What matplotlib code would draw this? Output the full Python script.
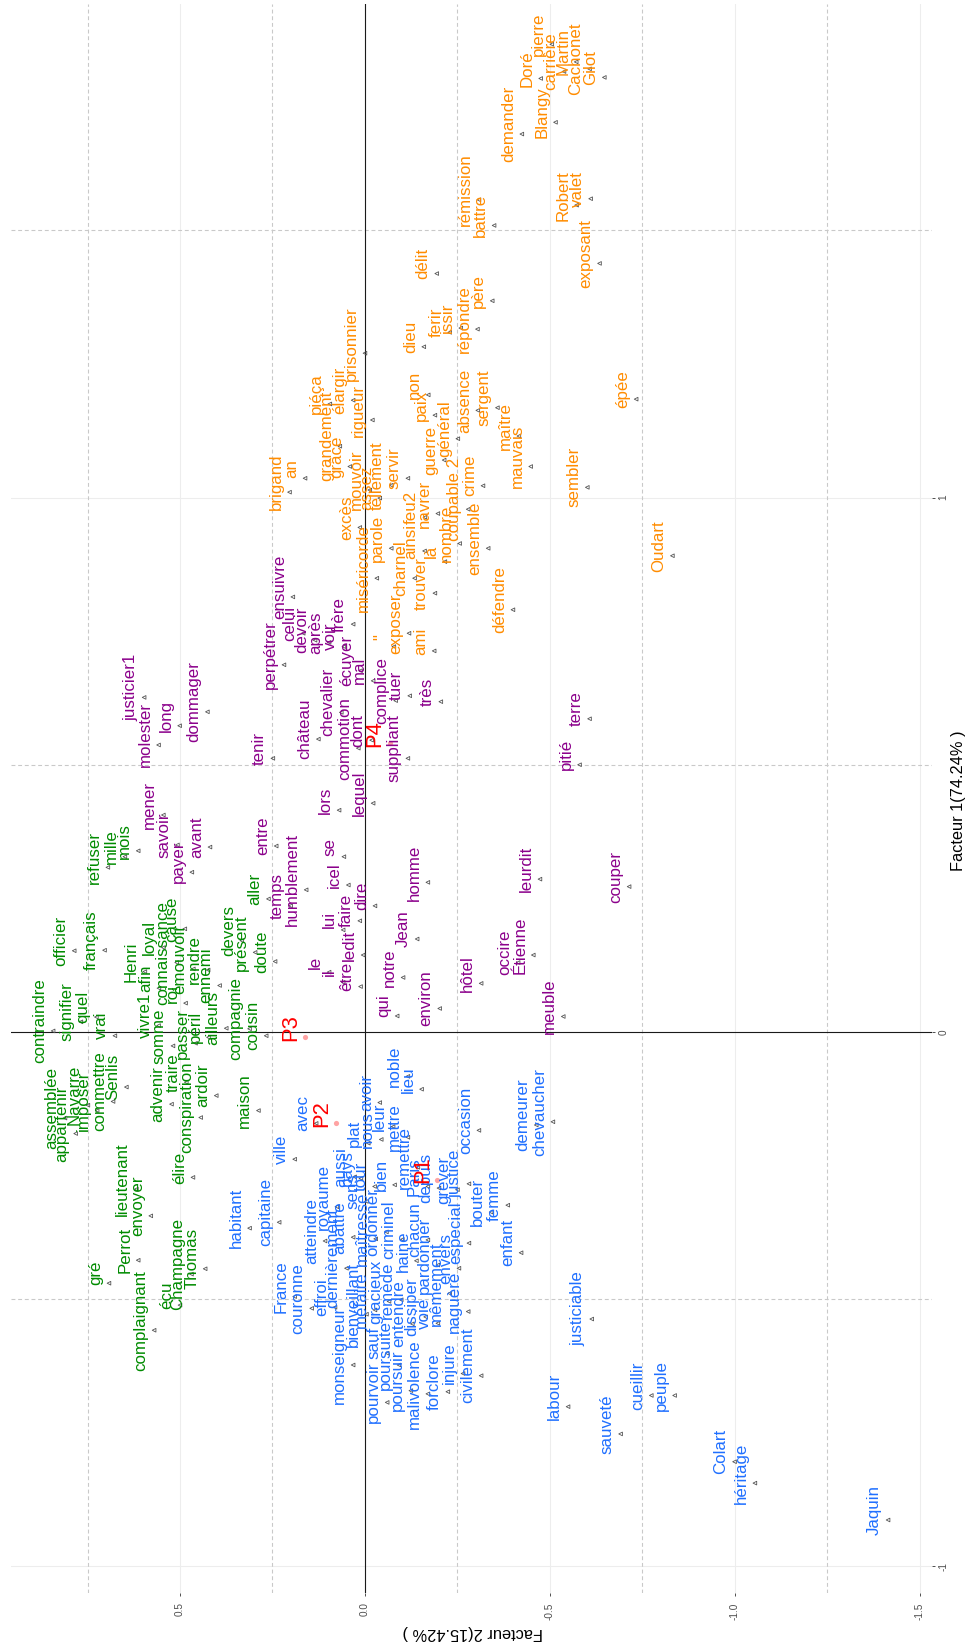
import matplotlib
matplotlib.use("Agg")
import matplotlib.pyplot as plt
from matplotlib.transforms import offset_copy

plt.rcParams["font.family"] = ["Liberation Sans", "DejaVu Sans"]

# coordinates of the words on factor 1 / factor 2, one block per class
orange_words = ["pierre", "Doré", "carrière", "Martin", "Cachonet", "Gilot", "Blangy",
                "demander", "rémission", "battre", "Robert", "valet", "exposant", "délit",
                "dieu", "ferir", "issir", "répondre", "père", "prisonnier", "élargir", "épée",
                "non", "paix", "guerre", "général", "absence", "sergent", "maître", "mauvais",
                "sembler", "crime", "coupable 2", "nombre", "navrer", "là", "feu2", "ainsi",
                "charnel", "trouver", "exposer", "ami", '"', "ensemble", "défendre", "Oudart",
                "servir", "tellement", "parole", "assez", "excès", "miséricorde", "mouvoir",
                "rigueur", "grâce", "grandement", "piéça", "brigand", "an"]
orange_f1 = [1.848, 1.784, 1.797, 1.815, 1.802, 1.786, 1.702,
             1.680, 1.557, 1.509, 1.547, 1.559, 1.438, 1.419,
             1.282, 1.309, 1.317, 1.315, 1.368, 1.270, 1.182, 1.184,
             1.192, 1.154, 1.070, 1.110, 1.163, 1.168, 1.115, 1.058,
             1.019, 1.022, 0.978, 0.914, 0.970, 0.880, 0.963, 0.900,
             0.849, 0.821, 0.746, 0.713, 0.721, 0.905, 0.790, 0.891,
             1.036, 1.023, 0.905, 0.999, 0.944, 0.849, 1.014,
             1.145, 1.058, 1.096, 1.175, 1.010, 1.036]
orange_f2 = [-0.505, -0.475, -0.538, -0.571, -0.607, -0.647, -0.515,
             -0.424, -0.308, -0.349, -0.572, -0.610, -0.634, -0.194,
             -0.159, -0.229, -0.259, -0.304, -0.344, 0.000, 0.032, -0.733,
             -0.171, -0.189, -0.214, -0.251, -0.305, -0.358, -0.416, -0.448,
             -0.601, -0.319, -0.279, -0.256, -0.197, -0.216, -0.162, -0.161,
             -0.134, -0.189, -0.119, -0.187, -0.078, -0.333, -0.400, -0.831,
             -0.116, -0.071, -0.071, -0.040, 0.014, -0.032, -0.013,
             -0.020, 0.041, 0.068, 0.095, 0.204, 0.162]

purple_words = ["justicier1", "molester", "long", "dommager", "perpétrer", "ensuivre",
                "celui", "devoir", "après", "voir", "tenir", "château", "chevalier", "lors",
                "mener", "frère", "écuyer", "mal", "commotion", "dont", "lequel", "complice",
                "suppliant", "tuer", "très", "pitié", "terre", "savoir", "payer", "avant",
                "entre", "temps", "humblement", "le", "se", "icel", "lui", "faire", "dire",
                "ledit", "il", "être", "qui", "notre", "Jean", "homme", "environ", "hôtel",
                "occire", "Étienne", "leurdit", "meuble", "couper"]
purple_f1 = [0.626, 0.537, 0.573, 0.599, 0.687, 0.814,
             0.746, 0.733, 0.729, 0.721, 0.512, 0.548, 0.598, 0.415,
             0.406, 0.763, 0.676, 0.657, 0.531, 0.546, 0.428, 0.620,
             0.512, 0.629, 0.618, 0.500, 0.586, 0.350, 0.299, 0.346,
             0.348, 0.236, 0.266, 0.112, 0.328, 0.275, 0.191, 0.208, 0.236,
             0.144, 0.093, 0.085, 0.030, 0.102, 0.174, 0.280, 0.044, 0.091,
             0.130, 0.144, 0.286, 0.029, 0.272]
purple_f2 = [0.597, 0.558, 0.501, 0.426, 0.219, 0.195,
             0.167, 0.135, 0.097, 0.057, 0.249, 0.126, 0.064, 0.070,
             0.545, 0.032, 0.012, -0.022, 0.018, -0.018, -0.022, -0.083,
             -0.116, -0.121, -0.205, -0.580, -0.607, 0.507, 0.468, 0.419,
             0.240, 0.201, 0.159, 0.097, 0.057, 0.045, 0.059, 0.014, -0.027,
             0.005, 0.059, 0.012, -0.087, -0.103, -0.141, -0.170, -0.202, -0.314,
             -0.414, -0.455, -0.473, -0.536, -0.714]

green_words = ["refuser", "mille", "mois", "officier", "français", "contraindre",
               "signifier", "quel", "vrai", "Henri", "loyal", "vivre1", "afin",
               "connaissance", "cause", "émouvoir", "roi", "rendre", "ennemi", "péril",
               "ailleurs", "devers", "présent", "doute", "aller", "compagnie", "cousin",
               "somme", "advenir", "traire", "passer", "conspiration", "ardoir", "maison",
               "assemblée", "appartenir", "Navarre", "imposer", "commettre", "Senlis",
               "lieutenant", "envoyer", "élire", "gré", "Perrot", "complaignant", "écu",
               "Champagne", "Thomas"]
green_f1 = [0.308, 0.328, 0.339, 0.152, 0.153, 0.002,
            0.019, 0.028, -0.007, 0.113, 0.158, 0.012, 0.082,
            0.130, 0.193, 0.118, 0.054, 0.116, 0.087, -0.010,
            0.007, 0.171, 0.149, 0.132, 0.249, 0.006, -0.007,
            -0.026, -0.135, -0.094, -0.021, -0.160, -0.119, -0.147,
            -0.161, -0.190, -0.137, -0.147, -0.130, -0.103,
            -0.294, -0.344, -0.272, -0.470, -0.427, -0.558, -0.511,
            -0.453, -0.443]
green_f2 = [0.695, 0.649, 0.613, 0.786, 0.704, 0.843,
            0.768, 0.726, 0.676, 0.595, 0.545, 0.558, 0.557,
            0.509, 0.487, 0.464, 0.485, 0.424, 0.393, 0.423,
            0.375, 0.333, 0.297, 0.243, 0.261, 0.312, 0.267,
            0.519, 0.523, 0.483, 0.458, 0.444, 0.402, 0.288,
            0.811, 0.782, 0.749, 0.724, 0.681, 0.645,
            0.618, 0.579, 0.465, 0.692, 0.613, 0.570, 0.500,
            0.469, 0.432]

blue_words = ["avec", "ville", "habitant", "capitaine", "royaume", "atteindre", "France",
              "couronne", "effroi", "monseigneur", "dernièrement", "bienveillant", "abattre",
              "aussi", "pays", "tour", "sens", "maîtresse", "méfaire", "plat", "nous",
              "avoir", "leur", "bien", "mettre", "noble", "lieu", "remettre", "Paris",
              "depuis", "grever", "justice", "occasion", "especial", "envers", "bouter",
              "femme", "enfant", "demeurer", "chevaucher", "gracieux", "ordonner",
              "criminel", "remède", "poursuite", "pourvoir", "sauf", "poursuir", "entendre",
              "haine", "chacun", "dissiper", "malivolence", "pardonner", "voie", "forclore",
              "mêmement", "injure", "naguère", "civilement", "justiciable", "labour",
              "sauveté", "cueillir", "peuple", "Colart", "héritage", "Jaquin"]
blue_f1 = [-0.171, -0.238, -0.367, -0.356, -0.327, -0.391, -0.495,
           -0.517, -0.515, -0.623, -0.442, -0.528, -0.384,
           -0.271, -0.274, -0.289, -0.317, -0.387, -0.520, -0.208, -0.201,
           -0.132, -0.177, -0.286, -0.197, -0.083, -0.107, -0.253, -0.289,
           -0.292, -0.295, -0.284, -0.184, -0.395, -0.442, -0.337,
           -0.324, -0.413, -0.174, -0.168, -0.504, -0.374,
           -0.388, -0.501, -0.623, -0.693, -0.601, -0.671, -0.546,
           -0.428, -0.389, -0.533, -0.677, -0.436, -0.545, -0.673,
           -0.489, -0.639, -0.523, -0.643, -0.537, -0.701,
           -0.752, -0.680, -0.680, -0.804, -0.844, -0.913]
blue_f2 = [0.132, 0.190, 0.312, 0.232, 0.076, 0.108, 0.190,
           0.144, 0.081, 0.032, 0.050, -0.004, 0.032,
           0.028, 0.011, -0.026, -0.004, -0.029, -0.027, -0.009, -0.044,
           -0.040, -0.076, -0.080, -0.116, -0.116, -0.153, -0.143, -0.170,
           -0.200, -0.250, -0.281, -0.308, -0.281, -0.254, -0.341,
           -0.386, -0.422, -0.463, -0.508, -0.065, -0.058,
           -0.101, -0.098, -0.092, -0.060, -0.060, -0.124, -0.128,
           -0.139, -0.170, -0.164, -0.170, -0.197, -0.197, -0.224,
           -0.229, -0.265, -0.279, -0.314, -0.613, -0.549,
           -0.691, -0.774, -0.837, -0.999, -1.054, -1.414]

# the four parts of the corpus
part_names = ["P1", "P2", "P3", "P4"]
part_f1 = [-0.276, -0.171, -0.010, 0.540]
part_f2 = [-0.195, 0.078, 0.162, -0.067]

groups = [
    (orange_words, orange_f1, orange_f2, "#FF8C00"),
    (purple_words, purple_f1, purple_f2, "#8B008B"),
    (green_words, green_f1, green_f2, "#008B00"),
    (blue_words, blue_f1, blue_f2, "#1F6FFF"),
]

fig = plt.figure(figsize=(9.67, 16.43), dpi=100)
ax = fig.add_axes([0.01107, 0.03043, 0.95243, 0.96713])

# factor 2 runs right to left, factor 1 bottom to top
ax.set_xlim(0.9576, -1.532)
ax.set_ylim(-1.0496, 1.9233)

for side in ax.spines.values():
    side.set_visible(False)

for v in [0.5, 0.0, -0.5, -1.0, -1.5]:
    ax.axvline(v, color="#EDEDED", lw=0.8, zorder=0)
for v in [-1.0, 1.0]:
    ax.axhline(v, color="#EDEDED", lw=0.8, zorder=0)
for v in [0.75, 0.25, -0.25, -0.75, -1.25]:
    ax.axvline(v, color="#C9C9C9", lw=0.8, ls=(0, (3.5, 2.5)), zorder=0)
for v in [-0.5, 0.5, 1.5]:
    ax.axhline(v, color="#C9C9C9", lw=0.8, ls=(0, (3.5, 2.5)), zorder=0)
ax.axvline(0, color="#1A1A1A", lw=0.8, zorder=1)
ax.axhline(0, color="#1A1A1A", lw=0.8, zorder=1)

ax.set_xticks([0.5, 0.0, -0.5, -1.0, -1.5])
ax.set_xticklabels(["0.5", "0.0", "-0.5", "-1.0", "-1.5"], rotation=90)
ax.yaxis.tick_right()
ax.set_yticks([-1, 0, 1])
ax.set_yticklabels(["-1", "0", "1"], rotation=90, va="center")
ax.tick_params(axis="both", length=2.5, width=0.6, color="#333333",
               labelsize=7.2, labelcolor="#4D4D4D")
ax.tick_params(axis="x", pad=4.3)
ax.tick_params(axis="y", pad=2.2)

# labels sit just above/left of their point
lab = offset_copy(ax.transData, fig=fig, x=-9, y=10, units="dots")

for words, f1, f2, col in groups:
    ax.scatter(f2, f1, marker="<", s=7, facecolor="none", edgecolor="#555555",
               linewidths=0.6, zorder=2)
    for w, a, b in zip(words, f1, f2):
        ax.text(b, a, w, transform=lab, rotation=90, rotation_mode="anchor",
                ha="center", va="baseline", color=col, fontsize=12.2, zorder=3)

ax.scatter(part_f2, part_f1, s=14, color="#FFA3A3", zorder=2, linewidths=0)
for w, a, b in zip(part_names, part_f1, part_f2):
    ax.text(b, a, w, transform=lab, rotation=90, rotation_mode="anchor",
            ha="center", va="baseline", color="red", fontsize=15.8, zorder=3)

fig.text(473 / 967, 1 - 1632.5 / 1643, "Facteur 2(15.42% )", rotation=180,
         ha="center", va="center", fontsize=11.8, color="black")
fig.text(959 / 967, 1 - 801 / 1643, "Facteur 1(74.24% )", rotation=90,
         ha="center", va="center", fontsize=11.8, color="black")

fig.savefig("out.png", dpi=100)
